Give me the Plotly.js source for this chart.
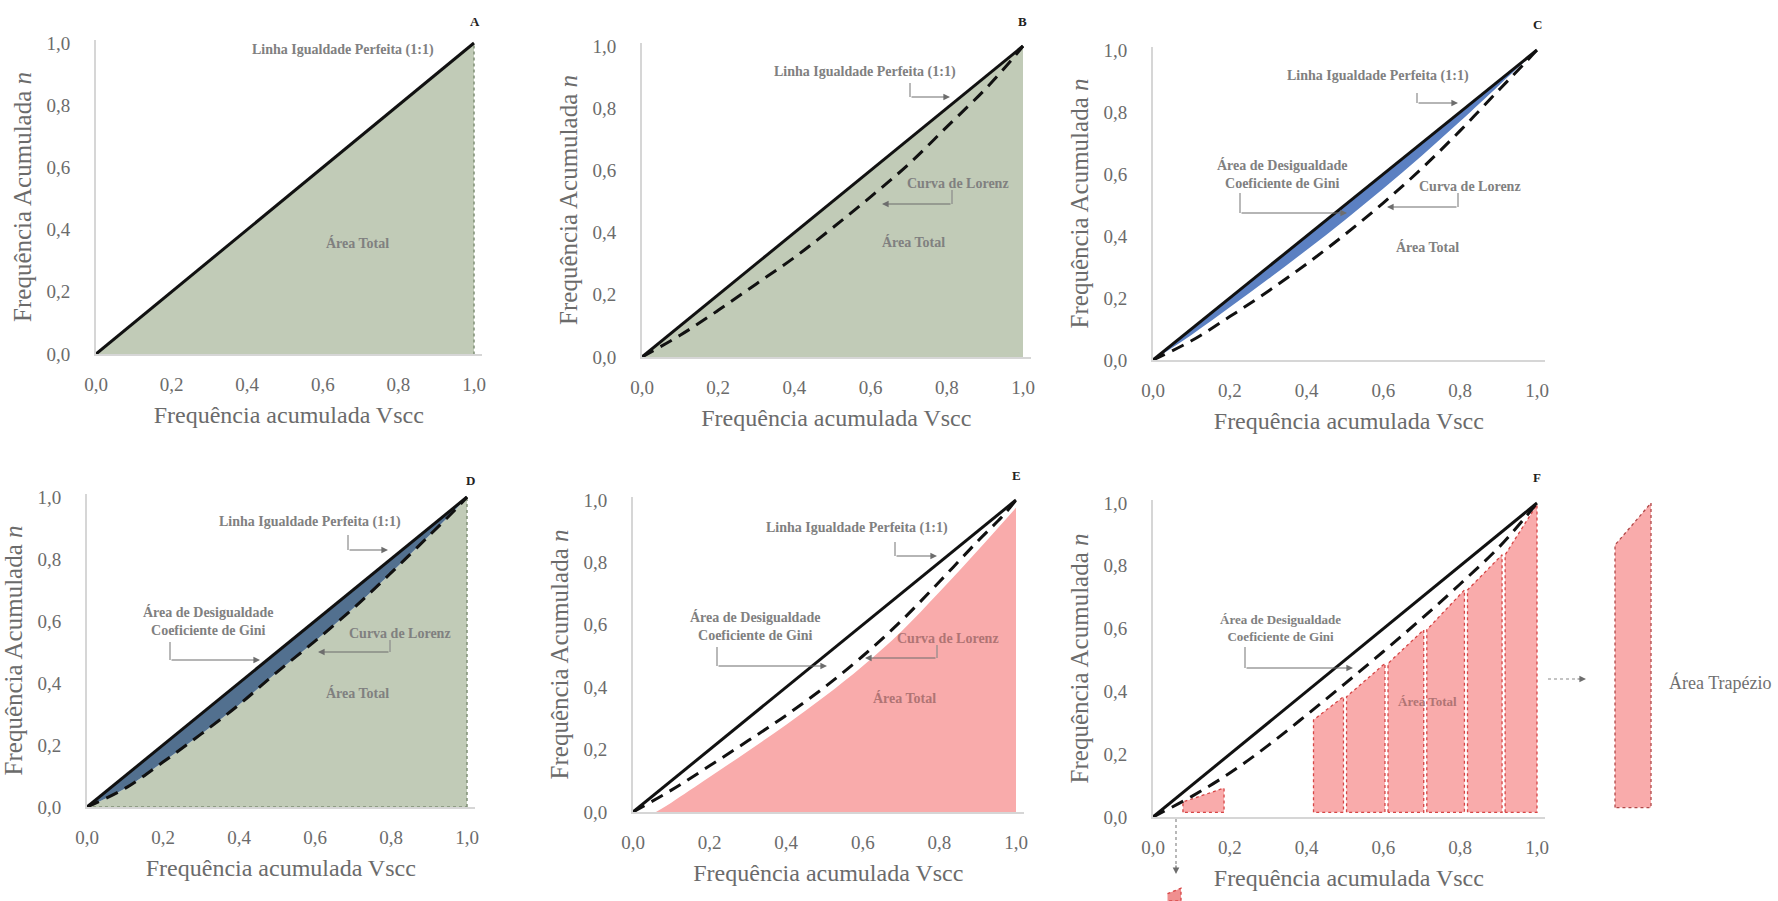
<!DOCTYPE html>
<html>
<head>
<meta charset="utf-8">
<script src="https://cdn.plot.ly/plotly-3.0.1.min.js"></script>
<style>html,body{margin:0;padding:0;background:#fff;}#chart{width:1778px;height:901px;}</style>
</head>
<body>
<div id="chart"></div>
<script>
// ---------------- DATA ----------------
const tickVals = [0, 0.2, 0.4, 0.6, 0.8, 1.0];
const tickText = ['0,0', '0,2', '0,4', '0,6', '0,8', '1,0'];

// Perfect equality line (1:1)
const equalityX = [0, 1];
const equalityY = [0, 1];

// cumulative Vscc grid used by the Lorenz curves
const gridX = [0, 0.1, 0.2, 0.3, 0.4, 0.5, 0.6, 0.7, 0.8, 0.9, 0.97, 1];

// Panel B Lorenz curve
const lorenzBY = [0, 0.07, 0.15, 0.235, 0.32, 0.415, 0.515, 0.62, 0.74, 0.86, 0.955, 1];
// Panel C Lorenz curve and lower edge of the Gini (inequality) area
const lorenzCY = [0, 0.062, 0.14, 0.222, 0.31, 0.405, 0.507, 0.618, 0.74, 0.87, 0.96, 1];
const giniCY   = [0, 0.081, 0.17, 0.261, 0.355, 0.452, 0.553, 0.659, 0.77, 0.885, 0.965, 1];
// Panel D Lorenz curve
const lorenzDY = [0, 0.06, 0.145, 0.235, 0.33, 0.435, 0.535, 0.64, 0.755, 0.875, 0.96, 1];
// Panel E Lorenz curve and top of the total area
const lorenzEY = [0, 0.07, 0.148, 0.228, 0.31, 0.4, 0.5, 0.612, 0.738, 0.868, 0.955, 1];
const areaEX = [0.06, 0.1, 0.2, 0.3, 0.4, 0.5, 0.6, 0.7, 0.8, 0.9, 1];
const areaEY = [0, 0.03, 0.112, 0.195, 0.28, 0.37, 0.468, 0.578, 0.705, 0.838, 0.975];
// Panel F Lorenz curve and trapezoids
const lorenzFY = [0, 0.065, 0.14, 0.228, 0.325, 0.425, 0.527, 0.632, 0.742, 0.858, 0.955, 1];
const smallTrapX = [0.078, 0.185];
const smallTrapTop = [0.048, 0.092];
const trapEdges = [0.418, 0.50, 0.608, 0.709, 0.815, 0.913, 1.0];
const trapTops = [0.309, 0.383, 0.489, 0.596, 0.723, 0.835, 0.995];
const trapBase = 0.015;
// Enlarged trapezoid detail (right of panel F)
const detailTrapX = [0.913, 1.0];
const detailTrapTop = [0.866, 1.0];
const detailTrapBase = 0.03;
// Small detail under panel F
const detailSmallX = [0.025, 0.07];
const detailSmallTop = [0.012, 0.035];

// ---------------- LAYOUT HELPERS ----------------
const W = 1778, H = 901;
const FONT = 'Liberation Serif';
const GREEN = '#c1cbb7', BLUE_C = '#5b80c2', BLUE_D = '#52708f', PINK = '#f9abab';
const GRAY_TXT = '#6b6b6b';

// pixel positions of value 0 and value 1 on each panel's axes
const panels = [
  {x0: 96,   x1: 474,  y0: 354, y1: 43},   // A
  {x0: 642,  x1: 1023, y0: 357, y1: 46},   // B
  {x0: 1153, x1: 1537, y0: 360, y1: 50},   // C
  {x0: 87,   x1: 467,  y0: 807, y1: 497},  // D
  {x0: 633,  x1: 1016, y0: 812, y1: 500},  // E
  {x0: 1153, x1: 1537, y0: 817, y1: 503}   // F
];
const XMAX = 1.02, YMAX = 1.01;

const layout = {
  width: W, height: H,
  margin: {l: 0, r: 0, t: 0, b: 0, pad: 0},
  paper_bgcolor: '#ffffff', plot_bgcolor: 'rgba(0,0,0,0)',
  showlegend: false, hovermode: false,
  font: {family: FONT},
  annotations: [], shapes: []
};

function sfx(i) { return i === 1 ? '' : String(i); }

panels.forEach((p, k) => {
  const i = k + 1;
  const xd = [p.x0 / W, (p.x0 + XMAX * (p.x1 - p.x0)) / W];
  const yd = [1 - p.y0 / H, 1 - (p.y0 - YMAX * (p.y0 - p.y1)) / H];
  layout['xaxis' + sfx(i)] = {
    domain: xd, range: [0, XMAX], anchor: 'y' + sfx(i),
    tickvals: tickVals, ticktext: tickText,
    showgrid: false, zeroline: false, showline: true, linecolor: '#d6d6d6', linewidth: 2,
    ticks: 'outside', ticklen: 12, tickcolor: 'rgba(0,0,0,0)',
    tickfont: {family: FONT, size: 19, color: GRAY_TXT},
    title: {text: 'Frequência acumulada Vscc', font: {family: FONT, size: 24, color: GRAY_TXT}, standoff: 12},
    fixedrange: true
  };
  layout['yaxis' + sfx(i)] = {
    domain: yd, range: [0, YMAX], anchor: 'x' + sfx(i),
    tickvals: tickVals, ticktext: tickText,
    showgrid: false, zeroline: false, showline: true, linecolor: '#d6d6d6', linewidth: 2,
    ticks: 'outside', ticklen: 20, tickcolor: 'rgba(0,0,0,0)',
    tickfont: {family: FONT, size: 19, color: GRAY_TXT},
    title: {text: 'Frequência Acumulada <i>n</i>', font: {family: FONT, size: 25, color: GRAY_TXT}, standoff: 8},
    fixedrange: true
  };
});

// hidden axes for the enlarged trapezoid (7) and the small detail (8)
(function () {
  const p = panels[5];
  const pxPerUnit = 36 / (detailTrapX[1] - detailTrapX[0]);
  const left = 1615 - 0.01 * pxPerUnit, right = 1651 + 0.01 * pxPerUnit;
  layout.xaxis7 = {domain: [left / W, right / W], range: [detailTrapX[0] - 0.01, detailTrapX[1] + 0.01], visible: false, anchor: 'y7', fixedrange: true};
  layout.yaxis7 = {domain: [1 - p.y0 / H, 1 - (p.y0 - YMAX * (p.y0 - p.y1)) / H], range: [0, YMAX], visible: false, anchor: 'x7', fixedrange: true};
  layout.xaxis8 = {domain: [1160 / W, 1190 / W], range: [0, 0.1], visible: false, anchor: 'y8', fixedrange: true};
  layout.yaxis8 = {domain: [0, 15 / H], range: [-0.02, 0.045], visible: false, anchor: 'x8', fixedrange: true};
})();

// ---------------- TRACES ----------------
const traces = [];
function ax(i) { return {xaxis: 'x' + sfx(i), yaxis: 'y' + sfx(i)}; }
const SMOOTH = {width: 0, shape: 'spline', smoothing: 1};
function poly(xs, ys, i, fill, line) {
  traces.push(Object.assign({type: 'scatter', mode: 'lines', x: xs, y: ys,
    fill: 'toself', fillcolor: fill, line: line || {width: 0}, hoverinfo: 'skip'}, ax(i)));
}
function areaZero(xs, ys, i, fill) {
  traces.push(Object.assign({type: 'scatter', mode: 'lines', x: xs, y: ys,
    fill: 'tozeroy', fillcolor: fill, line: SMOOTH, hoverinfo: 'skip'}, ax(i)));
}
function band(lowX, lowY, highX, highY, i, fill) {
  traces.push(Object.assign({type: 'scatter', mode: 'lines', x: lowX, y: lowY,
    line: SMOOTH, hoverinfo: 'skip'}, ax(i)));
  traces.push(Object.assign({type: 'scatter', mode: 'lines', x: highX, y: highY,
    fill: 'tonexty', fillcolor: fill, line: {width: 0}, hoverinfo: 'skip'}, ax(i)));
}
function curve(xs, ys, i, dash) {
  traces.push(Object.assign({type: 'scatter', mode: 'lines', x: xs, y: ys,
    line: {color: '#111111', width: 3, dash: dash || 'solid', shape: dash ? 'spline' : 'linear', smoothing: 1},
    hoverinfo: 'skip'}, ax(i)));
}
function dotted(xs, ys, i, color) {
  traces.push(Object.assign({type: 'scatter', mode: 'lines', x: xs, y: ys,
    line: {color: color, width: 1.5, dash: 'dot'}, hoverinfo: 'skip'}, ax(i)));
}
const last = a => a[a.length - 1];
const DASH = '13px,8px';
const greenBorder = {color: '#7f8f76', width: 1.5, dash: 'dot'};
const redBorder = {color: '#d64545', width: 1.3, dash: 'dot'};

// A
poly(equalityX.concat([1]), equalityY.concat([0]), 1, GREEN, greenBorder);
curve(equalityX, equalityY, 1);
// B
poly(equalityX.concat([1]), equalityY.concat([0]), 2, GREEN);
curve(gridX, lorenzBY, 2, DASH);
curve(equalityX, equalityY, 2);
// C
band(gridX, giniCY, equalityX, equalityY, 3, BLUE_C);
curve(gridX, lorenzCY, 3, DASH);
curve(equalityX, equalityY, 3);
// D
areaZero(gridX, lorenzDY, 4, GREEN);
band(gridX, lorenzDY, equalityX, equalityY, 4, BLUE_D);
dotted([last(gridX), last(gridX)], [0, last(lorenzDY)], 4, '#7f8f76');
dotted([0, last(gridX)], [0, 0], 4, '#7f8f76');
curve(gridX, lorenzDY, 4, DASH);
curve(equalityX, equalityY, 4);
// E
areaZero(areaEX, areaEY, 5, PINK);
curve(gridX, lorenzEY, 5, DASH);
curve(equalityX, equalityY, 5);
// F trapezoids
poly([smallTrapX[0], smallTrapX[0], smallTrapX[1], smallTrapX[1], smallTrapX[0]],
     [trapBase, smallTrapTop[0], smallTrapTop[1], trapBase, trapBase], 6, PINK, redBorder);
const gap = 0.004;
for (let j = 0; j < trapEdges.length - 1; j++) {
  const a = trapEdges[j] + (j > 0 ? gap : 0), b = trapEdges[j + 1] - (j < trapEdges.length - 2 ? gap : 0);
  poly([a, a, b, b, a], [trapBase, trapTops[j], trapTops[j + 1], trapBase, trapBase], 6, PINK, redBorder);
}
curve(gridX, lorenzFY, 6, DASH);
curve(equalityX, equalityY, 6);
// enlarged trapezoid
poly([detailTrapX[0], detailTrapX[0], detailTrapX[1], detailTrapX[1], detailTrapX[0]],
     [detailTrapBase, detailTrapTop[0], detailTrapTop[1], detailTrapBase, detailTrapBase], 7, PINK,
     {color: '#b04848', width: 1.3, dash: 'dot'});
// small detail at bottom
poly([detailSmallX[0], detailSmallX[1], detailSmallX[1], detailSmallX[0]],
     [detailSmallTop[0], detailSmallTop[1], -0.02, -0.02], 8, '#f08f8f', redBorder);

// ---------------- ANNOTATIONS ----------------
const A = layout.annotations, S = layout.shapes;
function px(x) { return x / W; }
function py(y) { return 1 - y / H; }
function label(x, y, text, opts) {
  opts = opts || {};
  A.push({xref: 'paper', yref: 'paper', x: px(x), y: py(y), text: opts.plain ? text : '<b>' + text + '</b>',
    showarrow: false, xanchor: 'center', yanchor: 'middle', align: 'center',
    font: {family: FONT, size: opts.size || 14, color: opts.color || '#808080'}});
}
const LINE_COL = '#8a8a8a';
function seg(xa, ya, xb, yb, dash) {
  S.push({type: 'line', xref: 'paper', yref: 'paper', x0: px(xa), y0: py(ya), x1: px(xb), y1: py(yb),
    line: {color: LINE_COL, width: 1.2, dash: dash || 'solid'}});
}
function arrow(fromX, fromY, toX, toY) {
  A.push({xref: 'paper', yref: 'paper', x: px(toX), y: py(toY), ax: fromX - toX, ay: fromY - toY,
    axref: 'pixel', ayref: 'pixel', text: '', showarrow: true, arrowhead: 2, arrowsize: 1.1,
    arrowwidth: 1.2, arrowcolor: '#6d6d6d', standoff: 0, startstandoff: 0});
}
function elbow(xTop, yTop, yMid, xTip) {
  seg(xTop, yTop, xTop, yMid);
  arrow(xTop, yMid, xTip, yMid);
}
function letter(x, y, t) {
  A.push({xref: 'paper', yref: 'paper', x: px(x), y: py(y), text: '<b>' + t + '</b>', showarrow: false,
    xanchor: 'center', yanchor: 'middle', font: {family: FONT, size: 13, color: '#222'}});
}
const TXT_PINK = '#b07474';

// A
label(343, 50, 'Linha Igualdade Perfeita (1:1)');
label(357, 243, 'Área Total');
letter(475, 22, 'A');
// B
label(865, 72, 'Linha Igualdade Perfeita (1:1)');
elbow(910, 83, 97, 950);
label(958, 183, 'Curva de Lorenz');
elbow(952, 190, 204, 882);
label(913, 242, 'Área Total');
letter(1023, 22, 'B');
// C
label(1378, 76, 'Linha Igualdade Perfeita (1:1)');
elbow(1417, 93, 103, 1458);
label(1282, 174, 'Área de Desigualdade<br>Coeficiente de Gini');
elbow(1240, 193, 213, 1347);
label(1470, 187, 'Curva de Lorenz');
elbow(1458, 193, 207, 1387);
label(1427, 247, 'Área Total');
letter(1537, 25, 'C');
// D
label(310, 522, 'Linha Igualdade Perfeita (1:1)');
elbow(348, 535, 550, 388);
label(208, 621, 'Área de Desigualdade<br>Coeficiente de Gini');
elbow(170, 642, 660, 260);
label(400, 633, 'Curva de Lorenz');
elbow(390, 640, 652, 318);
label(357, 693, 'Área Total');
letter(470, 480, 'D');
// E
label(857, 528, 'Linha Igualdade Perfeita (1:1)');
elbow(895, 542, 556, 937);
label(755, 626, 'Área de Desigualdade<br>Coeficiente de Gini');
elbow(717, 647, 666, 827);
label(948, 638, 'Curva de Lorenz', {color: TXT_PINK});
elbow(937, 645, 658, 865);
label(905, 698, 'Área Total', {color: TXT_PINK});
letter(1016, 475, 'E');
// F
label(1280, 628, 'Área de Desigualdade<br>Coeficiente de Gini', {size: 13});
elbow(1245, 647, 668, 1353);
label(1427, 701, 'Área Total', {color: TXT_PINK, size: 13});
letter(1537, 477, 'F');
seg(1548, 679, 1578, 679, 'dot');
arrow(1576, 679, 1586, 679);
label(1720, 682, 'Área Trapézio', {plain: true, size: 18, color: '#707070'});
seg(1176, 819, 1176, 866, 'dot');
arrow(1176, 864, 1176, 874);

Plotly.newPlot('chart', traces, layout, {staticPlot: true, displayModeBar: false});
</script>
</body>
</html>
